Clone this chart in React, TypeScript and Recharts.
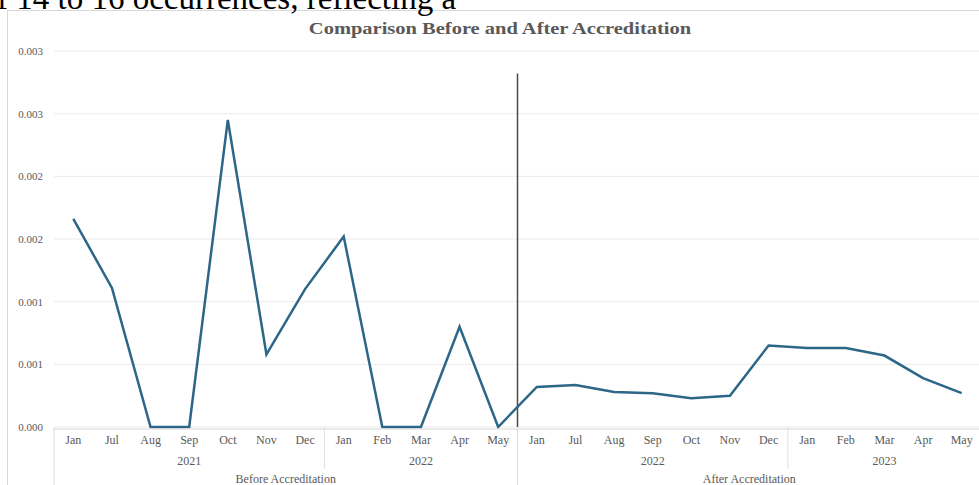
import React from "react";
import {
  LineChart,
  Line,
  XAxis,
  YAxis,
  CartesianGrid,
  ReferenceLine,
} from "recharts";

// chart values
const months = [
  "Jan", "Jul", "Aug", "Sep", "Oct", "Nov", "Dec", "Jan", "Feb", "Mar", "Apr", "May",
  "Jan", "Jul", "Aug", "Sep", "Oct", "Nov", "Dec", "Jan", "Feb", "Mar", "Apr", "May",
];
const values = [
  0.00166, 0.00111, 0, 0, 0.00245, 0.00058, 0.0011, 0.00152, 0, 0, 0.0008, 0,
  0.00032, 0.000335, 0.00028, 0.00027, 0.00023, 0.00025, 0.00065, 0.00063, 0.00063, 0.00057, 0.00039, 0.00027,
];
const yearLabels = ["2021", "2022", "2022", "2023"];
const yearLengths = [7, 5, 7, 5];
const phaseLabels = ["Before Accreditation", "After Accreditation"];
const phaseLengths = [12, 12];
const yTicks = [0, 0.0005, 0.001, 0.0015, 0.002, 0.0025, 0.003];
const yTickLabels = ["0.000", "0.001", "0.001", "0.002", "0.002", "0.003", "0.003"];
const dividerTop = 0.00282;

const FONT = '"Liberation Serif", "Times New Roman", serif';
const LINE_COLOR = "#2C6688";
const TEXT_COLOR = "#595959";

function groupCenters(lengths: number[]) {
  let start = 0;
  return lengths.map((n) => {
    const c = start + (n - 1) / 2;
    start += n;
    return c;
  });
}

function groupBounds(lengths: number[]) {
  let start = 0;
  const out = [-0.5];
  lengths.forEach((n) => {
    start += n;
    out.push(start - 0.5);
  });
  return out;
}

const data = months.map((m, i) => ({ i, month: m, value: values[i] }));
const yearCenters = groupCenters(yearLengths);
const phaseCenters = groupCenters(phaseLengths);
const phaseBounds = groupBounds(phaseLengths);
const yearBounds = groupBounds(yearLengths).filter((b) => !phaseBounds.includes(b));
const dividerX = phaseBounds[1];
const domain: [number, number] = [-0.5, months.length - 0.5];

const tickStyle = { fontSize: 12, fill: TEXT_COLOR, fontFamily: FONT };
const NoLabel = () => <g />;

export default function App() {
  return (
    <div
      style={{
        position: "absolute",
        left: 0,
        top: 0,
        width: 979,
        height: 485,
        overflow: "hidden",
        background: "#fff",
      }}
    >
      <div
        style={{
          position: "absolute",
          left: 7,
          top: 10,
          width: 990,
          height: 500,
          border: "1px solid #d9d9d9",
        }}
      />
      <div
        style={{
          position: "absolute",
          left: -3,
          top: -18,
          fontFamily: FONT,
          fontSize: 33,
          lineHeight: 1,
          color: "#000",
          whiteSpace: "nowrap",
        }}
      >
        f 14 to 16 occurrences, reflecting a
      </div>
      <div
        style={{
          position: "absolute",
          left: 500,
          top: 21,
          transform: "translateX(-50%) scaleX(1.28)",
          fontFamily: FONT,
          fontSize: 16,
          lineHeight: 1,
          fontWeight: "bold",
          color: TEXT_COLOR,
          whiteSpace: "nowrap",
        }}
      >
        Comparison Before and After Accreditation
      </div>
      <div style={{ position: "absolute", left: 0, top: 0 }}>
        <LineChart
          width={981}
          height={485}
          data={data}
          margin={{ top: 51, right: 0, bottom: 0, left: 0 }}
        >
          <CartesianGrid xAxisId="c_month" vertical={false} stroke="#ebebeb" />
          <XAxis
            xAxisId="a_sepMinor"
            type="number"
            dataKey="i"
            domain={domain}
            ticks={yearBounds}
            interval={0}
            height={1}
            axisLine={false}
            tick={NoLabel}
            tickSize={42}
            tickLine={{ stroke: "#dedede" }}
          />
          <XAxis
            xAxisId="b_sepMajor"
            type="number"
            dataKey="i"
            domain={domain}
            ticks={phaseBounds}
            interval={0}
            height={1}
            axisLine={false}
            tick={NoLabel}
            tickSize={58}
            tickLine={{ stroke: "#dedede" }}
          />
          <XAxis
            xAxisId="c_month"
            type="number"
            dataKey="i"
            domain={domain}
            ticks={months.map((_, i) => i)}
            interval={0}
            height={20}
            axisLine={{ stroke: "#d9d9d9" }}
            tickLine={false}
            tickSize={0}
            tickMargin={6}
            tick={tickStyle}
            tickFormatter={(v: any) => months[v] ?? ""}
          />
          <XAxis
            xAxisId="d_year"
            type="number"
            dataKey="i"
            domain={domain}
            ticks={yearCenters}
            interval={0}
            height={19}
            axisLine={false}
            tickLine={false}
            tickSize={0}
            tickMargin={7}
            tick={tickStyle}
            tickFormatter={(v: any, idx: number) => yearLabels[idx] ?? ""}
          />
          <XAxis
            xAxisId="e_phase"
            type="number"
            dataKey="i"
            domain={domain}
            ticks={phaseCenters}
            interval={0}
            height={17}
            axisLine={false}
            tickLine={false}
            tickSize={0}
            tickMargin={6}
            tick={tickStyle}
            tickFormatter={(v: any, idx: number) => phaseLabels[idx] ?? ""}
          />
          <YAxis
            width={54}
            domain={[0, 0.003]}
            ticks={yTicks}
            interval={0}
            axisLine={false}
            tickLine={false}
            tickSize={0}
            tickMargin={11}
            tick={{ fontSize: 11, fill: TEXT_COLOR, fontFamily: FONT }}
            tickFormatter={(v: any, idx: number) => yTickLabels[idx] ?? ""}
          />
          <ReferenceLine
            xAxisId="c_month"
            segment={[
              { x: dividerX, y: 0 },
              { x: dividerX, y: dividerTop },
            ]}
            stroke="#4a4a4a"
            strokeWidth={1.5}
          />
          <Line
            xAxisId="c_month"
            type="linear"
            dataKey="value"
            stroke={LINE_COLOR}
            strokeWidth={2.5}
            dot={false}
            isAnimationActive={false}
          />
        </LineChart>
      </div>
    </div>
  );
}
